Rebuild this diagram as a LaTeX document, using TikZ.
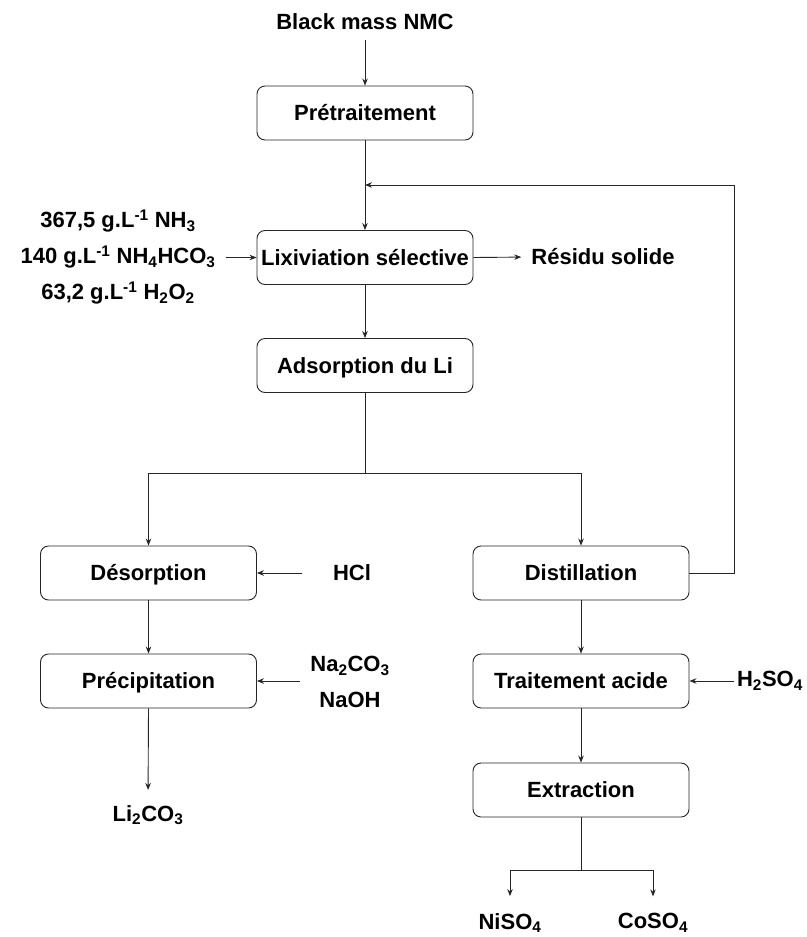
\documentclass[tikz,border=0pt]{standalone}
\usepackage{fontspec}
\setmainfont{Liberation Sans}
\usetikzlibrary{arrows.meta}
\begin{document}
\begin{tikzpicture}[x=1pt,y=-1pt,
  txt/.style={font=\bfseries\fontsize{22}{26}\selectfont},
  box/.style={txt, draw=black!85, rounded corners=8pt, minimum width=216pt, minimum height=54pt, inner sep=0pt, text height=15.8pt, text depth=0pt, line width=0.9pt},
  lbl/.style={txt, inner sep=0pt},
  multi/.style={lbl, align=center, font=\bfseries\fontsize{22}{36}\selectfont},
  arr/.style={-{Stealth[length=7pt,width=5.5pt]}, line width=0.9pt, draw=black!85},
  ln/.style={line width=0.9pt, draw=black!85}]
\useasboundingbox (0,0) rectangle (806,937);

% process boxes
\node[box] (pre) at (365,113) {Prétraitement};
\node[box] (lix) at (365,257.5) {Lixiviation sélective};
\node[box] (ads) at (365,365.5) {Adsorption du Li};
\node[box] (des) at (148.5,573) {Désorption};
\node[box] (pci) at (148.5,681) {Précipitation};
\node[box] (dis) at (581,573) {Distillation};
\node[box] (tra) at (581,681) {Traitement acide};
\node[box] (ext) at (581,790) {Extraction};

% labels
\node[lbl] (black) at (365,22) {Black mass NMC};
\node[multi] (reag) at (118,257) {367,5 g.L\textsuperscript{-1} NH\textsubscript{3}\\
140 g.L\textsuperscript{-1} NH\textsubscript{4}HCO\textsubscript{3}\\
63,2 g.L\textsuperscript{-1} H\textsubscript{2}O\textsubscript{2}};
\node[lbl] (res) at (603,257) {Résidu solide};
\node[lbl] (hcl) at (352,573) {HCl};
\node[multi] (naco) at (350,682) {Na\textsubscript{2}CO\textsubscript{3}\\NaOH};
\node[lbl] (li) at (148,815) {Li\textsubscript{2}CO\textsubscript{3}};
\node[lbl] (hso) at (770,681) {H\textsubscript{2}SO\textsubscript{4}};
\node[lbl] (ni) at (510,923) {NiSO\textsubscript{4}};
\node[lbl] (co) at (653,923) {CoSO\textsubscript{4}};

% junction points
\coordinate (fb) at (734,185);
\coordinate (split) at (365,473);
\coordinate (split2) at (581,870);

% connectors
\draw[arr, shorten <=10pt] (black.south) -- (pre);
\draw[arr] (pre) -- (lix);
\draw[arr] (dis.east) -| (fb) -- (fb -| lix.north);
\draw[arr, shorten <=10pt] (reag.east |- lix.west) -- (lix.west);
\draw[arr, shorten >=10pt] (lix.east) -- (res.west);
\draw[arr] (lix) -- (ads);
\draw[ln] (ads.south) -- (split);
\draw[arr] (split) -| (des.north);
\draw[arr] (split) -| (dis.north);
\draw[arr] (des) -- (pci);
\draw[arr, shorten >=15pt] (pci.south) -- (li.north);
\draw[arr, shorten <=31pt] (hcl.west) -- (des.east);
\draw[arr, shorten <=10pt] (naco.west |- pci.east) -- (pci.east);
\draw[arr] (dis) -- (tra);
\draw[arr] (tra) -- (ext);
\draw[arr, shorten <=3pt] (hso.west |- tra.east) -- (tra.east);
\draw[ln] (ext.south) -- (split2);
\draw[arr, shorten >=17pt] (split2) -| (ni.north);
\draw[arr, shorten >=17pt] (split2) -| (co.north);
\end{tikzpicture}
\end{document}
